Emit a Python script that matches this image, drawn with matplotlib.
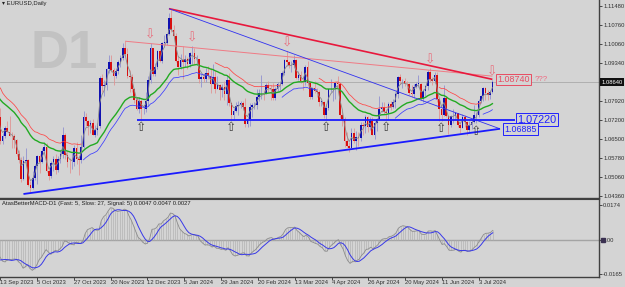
import numpy as np
import pandas as pd
import matplotlib
matplotlib.use('Agg')
from matplotlib import pyplot as plt
from matplotlib import transforms as mtrans

FN_OUT = 'out.png'

# EURUSD daily bars 13 Sep 2023 .. 11 Jul 2024, prices as pips above 1.0000
warmup_close = [983, 938, 946, 1006, 1003, 955, 973, 982, 947, 906, 905, 875, 872, 872, 895, 846,
                863, 798, 796, 817, 880, 924, 843, 775, 792, 723, 725, 697, 700, 750, 753]
first_open = 753
close_pips = [
  731, 643, 660, 690, 678, 662, 660, 645, 593, 572, 502, 567, 573,
  476, 468, 505, 549, 588, 564, 604, 620, 529, 510, 561, 576, 535, 576, 594, 667, 589, 565, 563, 564, 616, 575,
  570, 619, 731, 719, 699, 711, 667, 683, 700, 878, 848, 851, 913, 939, 908, 888, 904, 940, 953, 991, 970, 887,
  884, 836, 796, 763, 794, 762, 764, 792, 871, 993, 895, 922, 981, 944, 1011, 1012, 1043, 1105, 1060, 1038,
  942, 922, 947, 940, 950, 931, 972, 973, 950, 951, 875, 884, 874, 897, 886, 855, 884, 839, 853, 834, 845, 818,
  873, 786, 742, 755, 773, 778, 785, 772, 708, 727, 772, 777, 778, 808, 821, 822, 821, 851, 843, 839, 804,
  838, 855, 855, 899, 948, 938, 927, 927, 946, 880, 889, 868, 865, 922, 859, 808, 840, 830, 826, 790, 790,
  740, 768, 836, 836, 838, 860, 856, 742, 727, 643, 624, 618, 672, 643, 656, 655, 703, 698, 731, 694, 719, 665,
  712, 726, 761, 771, 752, 748, 783, 771, 790, 818, 883, 866, 869, 856, 855, 821, 820, 847, 858, 858, 800, 832, 849,
  903, 875, 869, 892, 801, 764, 740, 803, 738, 702, 735, 737, 747, 703, 692, 732, 715, 683, 701, 713,
  740, 742, 792, 810, 840, 824, 814, 828, 864]
high_pips = [
  774, 768, 673, 699, 718, 737, 677, 670, 650, 608, 582, 588, 617,
  577, 492, 532, 557, 589, 595, 617, 640, 635, 540, 566, 586, 595, 585, 610, 695, 673, 604, 580, 599, 626, 640,
  585, 667, 756, 746, 720, 722, 724, 703, 709, 887, 895, 870, 916, 965, 966, 917, 916, 947, 965, 1009, 1017, 993,
  908, 895, 843, 806, 806, 800, 779, 827, 888, 1009, 993, 935, 983, 989, 1013, 1040, 1045, 1122, 1139, 1076,
  1046, 960, 970, 998, 965, 958, 978, 998, 990, 966, 951, 895, 896, 915, 923, 915, 932, 904, 886, 856, 857, 867,
  890, 897, 789, 767, 790, 793, 794, 793, 803, 737, 785, 787, 790, 838, 836, 889, 833, 860, 866, 854, 860,
  845, 865, 866, 907, 951, 981, 943, 942, 964, 950, 906, 906, 877, 929, 942, 868, 843, 866, 841, 833, 796,
  793, 780, 839, 876, 843, 863, 885, 862, 757, 731, 675, 639, 690, 690, 679, 675, 713, 715, 742, 735, 734, 733,
  716, 730, 812, 788, 789, 763, 790, 792, 800, 825, 887, 895, 874, 878, 866, 861, 852, 858, 865, 889, 862, 838, 852,
  908, 916, 884, 902, 900, 790, 768, 852, 812, 742, 740, 761, 752, 748, 718, 745, 740, 717, 718, 726,
  776, 752, 799, 817, 845, 845, 833, 835, 871]
low_pips = [
  714, 632, 632, 655, 677, 660, 615, 615, 587, 560, 488, 495, 551,
  474, 448, 464, 497, 482, 524, 562, 596, 525, 495, 505, 532, 520, 526, 560, 580, 574, 546, 524, 538, 550, 555,
  517, 559, 617, 698, 665, 674, 664, 656, 667, 693, 828, 813, 834, 897, 903, 852, 880, 894, 920, 946, 961, 880,
  828, 828, 785, 758, 746, 723, 743, 751, 774, 862, 888, 887, 913, 938, 935, 995, 1001, 1039, 1053, 1036,
  940, 892, 914, 877, 921, 911, 920, 932, 930, 932, 862, 844, 864, 863, 875, 822, 855, 821, 838, 795, 807, 796,
  777, 773, 723, 722, 751, 740, 765, 760, 696, 695, 700, 733, 761, 762, 793, 802, 796, 818, 825, 796, 796,
  798, 832, 833, 851, 891, 925, 916, 903, 917, 875, 873, 859, 835, 851, 848, 802, 801, 824, 808, 775, 775,
  729, 724, 759, 825, 792, 802, 846, 728, 698, 622, 620, 601, 617, 637, 610, 623, 644, 665, 674, 675, 683, 665,
  650, 681, 720, 750, 745, 724, 723, 760, 765, 767, 805, 858, 840, 849, 838, 815, 806, 804, 840, 847, 795, 788, 811,
  834, 864, 853, 860, 789, 719, 718, 737, 733, 668, 696, 710, 722, 694, 671, 692, 694, 666, 676, 687,
  709, 709, 731, 784, 794, 797, 796, 800, 822]

price_ticks = [1.11480, 1.10760, 1.10060, 1.09340, 1.07920, 1.07200, 1.06500, 1.05780, 1.05060, 1.04360]
last_price = 1.08640
macd_ticks = [0.0174, 0.0, -0.0165]
macd_tick_labels = ['0.0174', '0.00', '-0.0165']
macd_readout = [0.0047, 0.0047, 0.0027]
date_ticks = ['2023-09-13', '2023-10-05', '2023-10-27', '2023-11-20', '2023-12-12', '2024-01-05', '2024-01-29',
              '2024-02-20', '2024-03-13', '2024-04-04', '2024-04-26', '2024-05-20', '2024-06-11', '2024-07-03']
up_marks = ['2023-12-08', '2024-02-05', '2024-04-02', '2024-05-08', '2024-06-11', '2024-07-02']
down_marks = ['2023-12-14', '2024-01-11', '2024-03-08', '2024-06-04', '2024-07-11']

# hand drawn objects: (bar number, price)
res_line = [(74, 1.1139), (214, 1.08740)]
old_res_line = [(55, 1.1017), (214, 1.0886)]
wedge_top = [(74, 1.1139), (217.3, 1.06885)]
support_line = [(11, 1.0444), (217.3, 1.06885)]
level_line = [(60, 1.07220), (224, 1.07220)]

BG = '#d4d4d4'
W, H = 625, 287
FAM = ['Liberation Sans', 'DejaVu Sans']

dates = pd.bdate_range('2023-09-13', '2024-07-11')
dates = dates.drop([pd.Timestamp('2023-12-25'), pd.Timestamp('2024-01-01')])
n = len(dates)
idx = np.arange(n)
def bar(d): return dates.get_loc(pd.Timestamp(d))

close = 1 + np.array(close_pips) / 1e4
high = 1 + np.array(high_pips) / 1e4
low = 1 + np.array(low_pips) / 1e4
opn = np.r_[1 + first_open / 1e4, close[:-1]]
high = np.maximum(high, np.maximum(opn, close))
low = np.minimum(low, np.minimum(opn, close))

full = pd.Series(np.r_[1 + np.array(warmup_close) / 1e4, close])
nw = len(warmup_close)
ma = full.ewm(span=30).mean().values[nw:]
fast = full.ewm(span=3).mean().values[nw:]
rng = pd.Series(high - low).ewm(span=30).mean().values
upper, lower = ma + 0.45 * rng, ma - 0.45 * rng
state = np.zeros(n)
s = -1
for i in range(n):
  if close[i] > ma[i] + rng[i]: s = 1
  elif close[i] < ma[i] - rng[i]: s = -1
  state[i] = s
macd = (full.ewm(span=5, adjust=False).mean() - full.ewm(span=27, adjust=False).mean())
signal = macd.rolling(5).mean().values[nw:]
macd = macd.values[nw:]

fig = plt.figure(figsize=(W / 100, H / 100), dpi=100)
fig.patch.set_facecolor(BG)
def px_rect(x0, y0, x1, y1): return [x0 / W, 1 - y1 / H, (x1 - x0) / W, (y1 - y0) / H]
ax = fig.add_axes(px_rect(0, 0, 599, 198))
am = fig.add_axes(px_rect(0, 199, 599, 277))
XL = (0.85, 260.15)
SMALL = dict(fontsize=4.2, family=FAM, color='#202020')

for a in (ax, am):
  a.set_facecolor(BG)
  a.set_xlim(*XL)
  for sp in ('left', 'top'):
    a.spines[sp].set_visible(False)
  for sp in ('right', 'bottom'):
    a.spines[sp].set_color('#404040')
    a.spines[sp].set_linewidth(1.0)
  a.yaxis.tick_right()
  a.tick_params(axis='y', length=2, width=0.6, pad=1, colors='#303030', labelsize=4.2)
am.spines['top'].set_visible(True)
am.spines['top'].set_color('#404040')

# main panel
ax.set_ylim(1.0429, 1.11715)
ax.set_xticks([])
ax.set_yticks(price_ticks)
ax.set_yticklabels(['%.5f' % p for p in price_ticks], family=FAM)
ax.text(30 / W, 1 - 68 / H, 'D1', transform=fig.transFigure, fontsize=38, weight='bold',
        family=FAM, color='#c2c2c2', zorder=0.5)
ax.text(2 / W, 1 - 3 / H, '\u25be EURUSD,Daily', transform=fig.transFigure, va='center', **SMALL)
ax.axhline(last_price, color='#a9a9a9', lw=0.6, zorder=1)

up = close >= opn
ax.vlines(idx, low, high, colors=np.where(up, '#9090d0', '#e09494'), lw=0.6, zorder=2)
ax.bar(idx, np.maximum(np.abs(close - opn), 0.00012), bottom=np.minimum(opn, close), width=0.72,
       color=np.where(up, '#1010b0', '#d81010'), zorder=3)

ax.plot(idx, ma, color='#22aa22', lw=1.0, zorder=4)
ax.plot(idx, fast, color='#8a8a8a', lw=0.6, zorder=4)
ax.plot(idx, np.where(state < 0, upper, np.nan), color='#ff4545', lw=0.55, zorder=4)
ax.plot(idx, np.where(state > 0, lower, np.nan), color='#3c3cff', lw=0.55, zorder=4)

def seg(pts, **kw):
  ax.plot([p[0] for p in pts], [p[1] for p in pts], solid_capstyle='butt', zorder=5, **kw)
seg(old_res_line, color='#f07a84', lw=0.7)
seg(res_line, color='#e8183c', lw=1.2)
seg(wedge_top, color='#3030f0', lw=0.6)
seg(support_line, color='#1a1aff', lw=1.3)
seg(level_line, color='#1a1aff', lw=1.3)

box = lambda c: dict(boxstyle='square,pad=0.15', fc=BG, ec=c, lw=0.7)
ax.text(216, res_line[1][1], '%.5f' % res_line[1][1], color='#e84c62', fontsize=6.4, family=FAM,
        va='center', bbox=box('#e84c62'), zorder=6)
ax.text(232.5, res_line[1][1], '???', color='#f06a82', fontsize=5.6, family=FAM, va='center', zorder=6)
ax.text(224.8, level_line[1][1], '%.5f' % level_line[1][1], color='#2020ff', fontsize=7.8, family=FAM,
        va='center', bbox=box('#2020ff'), zorder=6)
ax.text(219, wedge_top[1][1] - 0.0002, '%.5f' % wedge_top[1][1], color='#2020ff', fontsize=6.4,
        family=FAM, va='center', bbox=box('#2020ff'), zorder=6)

for d in up_marks:
  i = bar(d)
  ax.annotate('\u21e7', (i, low[i]), xytext=(0, -1.0), textcoords='offset points', ha='center', va='top',
              fontsize=9, color='#404040', family='DejaVu Sans', zorder=6)
for d in down_marks:
  i = bar(d)
  ax.annotate('\u21e9', (i, high[i]), xytext=(0, 1.0), textcoords='offset points', ha='center', va='bottom',
              fontsize=9, color='#e8707e', family='DejaVu Sans', zorder=6)

yt = mtrans.blended_transform_factory(ax.transAxes, ax.transData)
ax.text(1.004, last_price, '%.5f' % last_price, transform=yt, va='center', ha='left', color='white',
        fontsize=4.2, family=FAM, bbox=dict(boxstyle='square,pad=0.2', fc='#101010', ec='none'),
        zorder=7, clip_on=False)

# MACD panel
am.set_ylim(-0.0181, 0.0201)
am.axhline(0, color='#a4a4a4', lw=1.0, zorder=1)
am.vlines(idx, 0, macd, color='#b0b0b0', lw=0.45, zorder=2)
am.plot(idx, macd, color='#8c8c8c', lw=0.6, zorder=3)
am.plot(idx, signal, color='#3838e8', lw=0.7, zorder=4)
am.set_yticks(macd_ticks)
am.set_yticklabels(macd_tick_labels, family=FAM)
mt = mtrans.blended_transform_factory(am.transAxes, am.transData)
am.plot([1.006], [0], transform=mt, marker='s', ms=2.6, color='#3a3050', clip_on=False, zorder=7)
am.text(0.004, 1 - 5 / 78, 'AtasBetterMACD-D1 (Fast: 5, Slow: 27, Signal: 5) %.4f %.4f %.4f' % tuple(macd_readout),
        transform=am.transAxes, va='center', **SMALL)

xt = [bar(d) for d in date_ticks]
am.set_xticks(xt)
am.set_xticklabels(['%d %s' % (pd.Timestamp(d).day, pd.Timestamp(d).strftime('%b %Y')) for d in date_ticks],
                   family=FAM)
am.tick_params(axis='x', length=2, width=0.6, pad=0.5, colors='#303030', labelsize=4.2)
for lbl in am.get_xticklabels():
  lbl.set_ha('left')

fig.savefig(FN_OUT, dpi=100, facecolor=BG)
